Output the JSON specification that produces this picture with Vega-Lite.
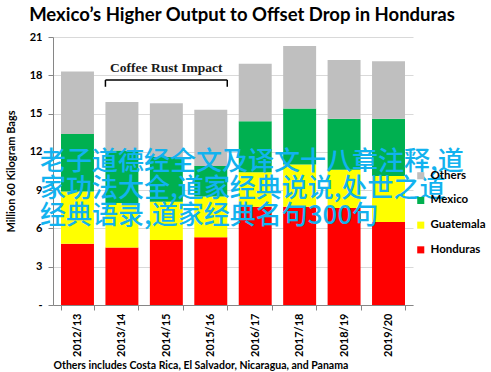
{
  "$schema": "https://vega.github.io/schema/vega-lite/v6.json",
  "width": 360,
  "height": 268,
  "autosize": {"type": "none"},
  "padding": {"left": 53, "top": 37, "right": 78, "bottom": 67},
  "background": "white",
  "title": {"text": "Mexico’s Higher Output to Offset Drop in Honduras", "font": "Lato", "fontSize": 18.5, "fontWeight": "bold", "color": "#000000", "anchor": "middle", "dx": 9, "offset": 7},
  "config": {"view": {"stroke": null}, "font": "Lato", "axisY": {"labelOverlap": false, "values": [0, 3, 6, 9, 12, 15, 18, 21]}},
  "datasets": {
    "regions": [
      {"region": "Honduras", "stackOrder": 1},
      {"region": "Guatemala", "stackOrder": 2},
      {"region": "Mexico", "stackOrder": 3},
      {"region": "Others", "stackOrder": 4}
    ],
    "coffee": [
      {"season": "2012/13", "region": "Honduras", "bags": 4.8},
      {"season": "2012/13", "region": "Guatemala", "bags": 4.1},
      {"season": "2012/13", "region": "Mexico", "bags": 4.5},
      {"season": "2012/13", "region": "Others", "bags": 4.9},
      {"season": "2013/14", "region": "Honduras", "bags": 4.5},
      {"season": "2013/14", "region": "Guatemala", "bags": 3.5},
      {"season": "2013/14", "region": "Mexico", "bags": 4.1},
      {"season": "2013/14", "region": "Others", "bags": 3.8},
      {"season": "2014/15", "region": "Honduras", "bags": 5.1},
      {"season": "2014/15", "region": "Guatemala", "bags": 3.0},
      {"season": "2014/15", "region": "Mexico", "bags": 3.5},
      {"season": "2014/15", "region": "Others", "bags": 4.2},
      {"season": "2015/16", "region": "Honduras", "bags": 5.3},
      {"season": "2015/16", "region": "Guatemala", "bags": 3.2},
      {"season": "2015/16", "region": "Mexico", "bags": 2.4},
      {"season": "2015/16", "region": "Others", "bags": 4.4},
      {"season": "2016/17", "region": "Honduras", "bags": 7.7},
      {"season": "2016/17", "region": "Guatemala", "bags": 2.7},
      {"season": "2016/17", "region": "Mexico", "bags": 4.0},
      {"season": "2016/17", "region": "Others", "bags": 4.5},
      {"season": "2017/18", "region": "Honduras", "bags": 7.7},
      {"season": "2017/18", "region": "Guatemala", "bags": 3.3},
      {"season": "2017/18", "region": "Mexico", "bags": 4.4},
      {"season": "2017/18", "region": "Others", "bags": 4.9},
      {"season": "2018/19", "region": "Honduras", "bags": 7.6},
      {"season": "2018/19", "region": "Guatemala", "bags": 3.0},
      {"season": "2018/19", "region": "Mexico", "bags": 4.0},
      {"season": "2018/19", "region": "Others", "bags": 4.6},
      {"season": "2019/20", "region": "Honduras", "bags": 6.5},
      {"season": "2019/20", "region": "Guatemala", "bags": 3.6},
      {"season": "2019/20", "region": "Mexico", "bags": 4.5},
      {"season": "2019/20", "region": "Others", "bags": 4.5}
    ]
  },
  "layer": [
    {
      "data": {"name": "coffee"},
      "transform": [
        {"lookup": "region", "from": {"data": {"name": "regions"}, "key": "region", "fields": ["stackOrder"]}}
      ],
      "mark": {"type": "bar"},
      "encoding": {
        "x": {
          "field": "season", "type": "nominal",
          "scale": {"paddingInner": 0.258, "paddingOuter": 0.18},
          "title": "Others includes Costa Rica, El Salvador, Nicaragua, and Panama",
          "axis": {
            "labelAngle": -90, "labelAlign": "right", "labelBaseline": "middle",
            "labelFont": "Lato", "labelFontSize": 11, "labelFontWeight": "bold", "labelColor": "#000000",
            "tickBand": "extent", "domainColor": "#868686", "tickColor": "#868686", "tickSize": 5,
            "labelPadding": 3, "grid": false,
            "titleAnchor": "start", "titleAlign": "left", "titleFont": "Lato", "titleFontSize": 10.5,
            "titleFontWeight": "bold", "titleColor": "#000000", "titlePadding": 4
          }
        },
        "y": {
          "field": "bags", "type": "quantitative", "stack": "zero",
          "scale": {"domain": [0, 21], "nice": false},
          "title": "Million 60 Kilogram Bags",
          "axis": {
            "values": [0, 3, 6, 9, 12, 15, 18, 21],
            "labelOverlap": false,
            "labelExpr": "datum.value == 0 ? '-' : datum.label",
            "labelFont": "Lato", "labelFontSize": 11, "labelFontWeight": "bold", "labelColor": "#000000",
            "titleFont": "Lato", "titleFontSize": 11, "titleFontWeight": "bold", "titleColor": "#000000",
            "domainColor": "#868686", "tickColor": "#868686", "tickSize": 5, "labelPadding": 6,
            "gridColor": "#d9d9d9", "titlePadding": 13
          }
        },
        "color": {
          "field": "region", "type": "nominal",
          "scale": {"domain": ["Honduras", "Guatemala", "Mexico", "Others"], "range": ["#ff0000", "#ffff00", "#00b050", "#bfbfbf"]},
          "legend": {
            "values": ["Others", "Mexico", "Guatemala", "Honduras"],
            "orient": "none", "legendX": 362, "legendY": 133, "title": null,
            "symbolType": "square", "symbolSize": 50, "symbolStrokeWidth": 0,
            "labelFont": "Lato", "labelFontSize": 11.5, "labelFontWeight": "bold", "labelColor": "#000000",
            "rowPadding": 11.7
          }
        },
        "order": {"field": "stackOrder", "type": "quantitative", "sort": "ascending"}
      }
    },
    {
      "data": {"values": [{}]},
      "mark": {"type": "rule", "color": "#000000", "strokeWidth": 1.5},
      "encoding": {
        "x": {"datum": "2013/14", "type": "nominal", "bandPosition": 0},
        "x2": {"datum": "2015/16", "bandPosition": 1},
        "y": {"datum": 17.63, "type": "quantitative", "axis": {"values": [0, 3, 6, 9, 12, 15, 18, 21], "labelOverlap": false}}
      }
    },
    {
      "data": {"values": [{}]},
      "mark": {"type": "rule", "color": "#000000", "strokeWidth": 1.5},
      "encoding": {
        "x": {"datum": "2013/14", "type": "nominal", "bandPosition": 0},
        "y": {"datum": 17.63, "type": "quantitative", "axis": {"values": [0, 3, 6, 9, 12, 15, 18, 21], "labelOverlap": false}},
        "y2": {"datum": 17.1}
      }
    },
    {
      "data": {"values": [{}]},
      "mark": {"type": "rule", "color": "#000000", "strokeWidth": 1.5},
      "encoding": {
        "x": {"datum": "2015/16", "type": "nominal", "bandPosition": 1},
        "y": {"datum": 17.63, "type": "quantitative", "axis": {"values": [0, 3, 6, 9, 12, 15, 18, 21], "labelOverlap": false}},
        "y2": {"datum": 17.1}
      }
    },
    {
      "data": {"values": [{}]},
      "mark": {"type": "text", "font": "Liberation Serif", "fontSize": 13.5, "fontWeight": "bold", "color": "#1a1a1a", "baseline": "middle", "align": "center"},
      "encoding": {
        "x": {"datum": "2014/15", "type": "nominal"},
        "y": {"datum": 18.55, "type": "quantitative", "axis": {"values": [0, 3, 6, 9, 12, 15, 18, 21], "labelOverlap": false}},
        "text": {"value": "Coffee Rust Impact"}
      }
    },
    {
      "data": {"values": [{}]},
      "mark": {"type": "text", "font": "Noto Sans CJK SC", "fontSize": 26, "fontWeight": 500, "color": "#12b2ef", "baseline": "middle", "align": "left", "lineHeight": 27, "dx": -21},
      "encoding": {
        "x": {"datum": "2012/13", "type": "nominal", "bandPosition": 0},
        "y": {"datum": 11.2, "type": "quantitative", "axis": {"values": [0, 3, 6, 9, 12, 15, 18, 21], "labelOverlap": false}},
        "text": {"value": ["老子道德经全文及译文十八章注释,道", "家功法大全,道家经典说说,处世之道", "经典语录,道家经典名句300句"]}
      }
    }
  ]
}
